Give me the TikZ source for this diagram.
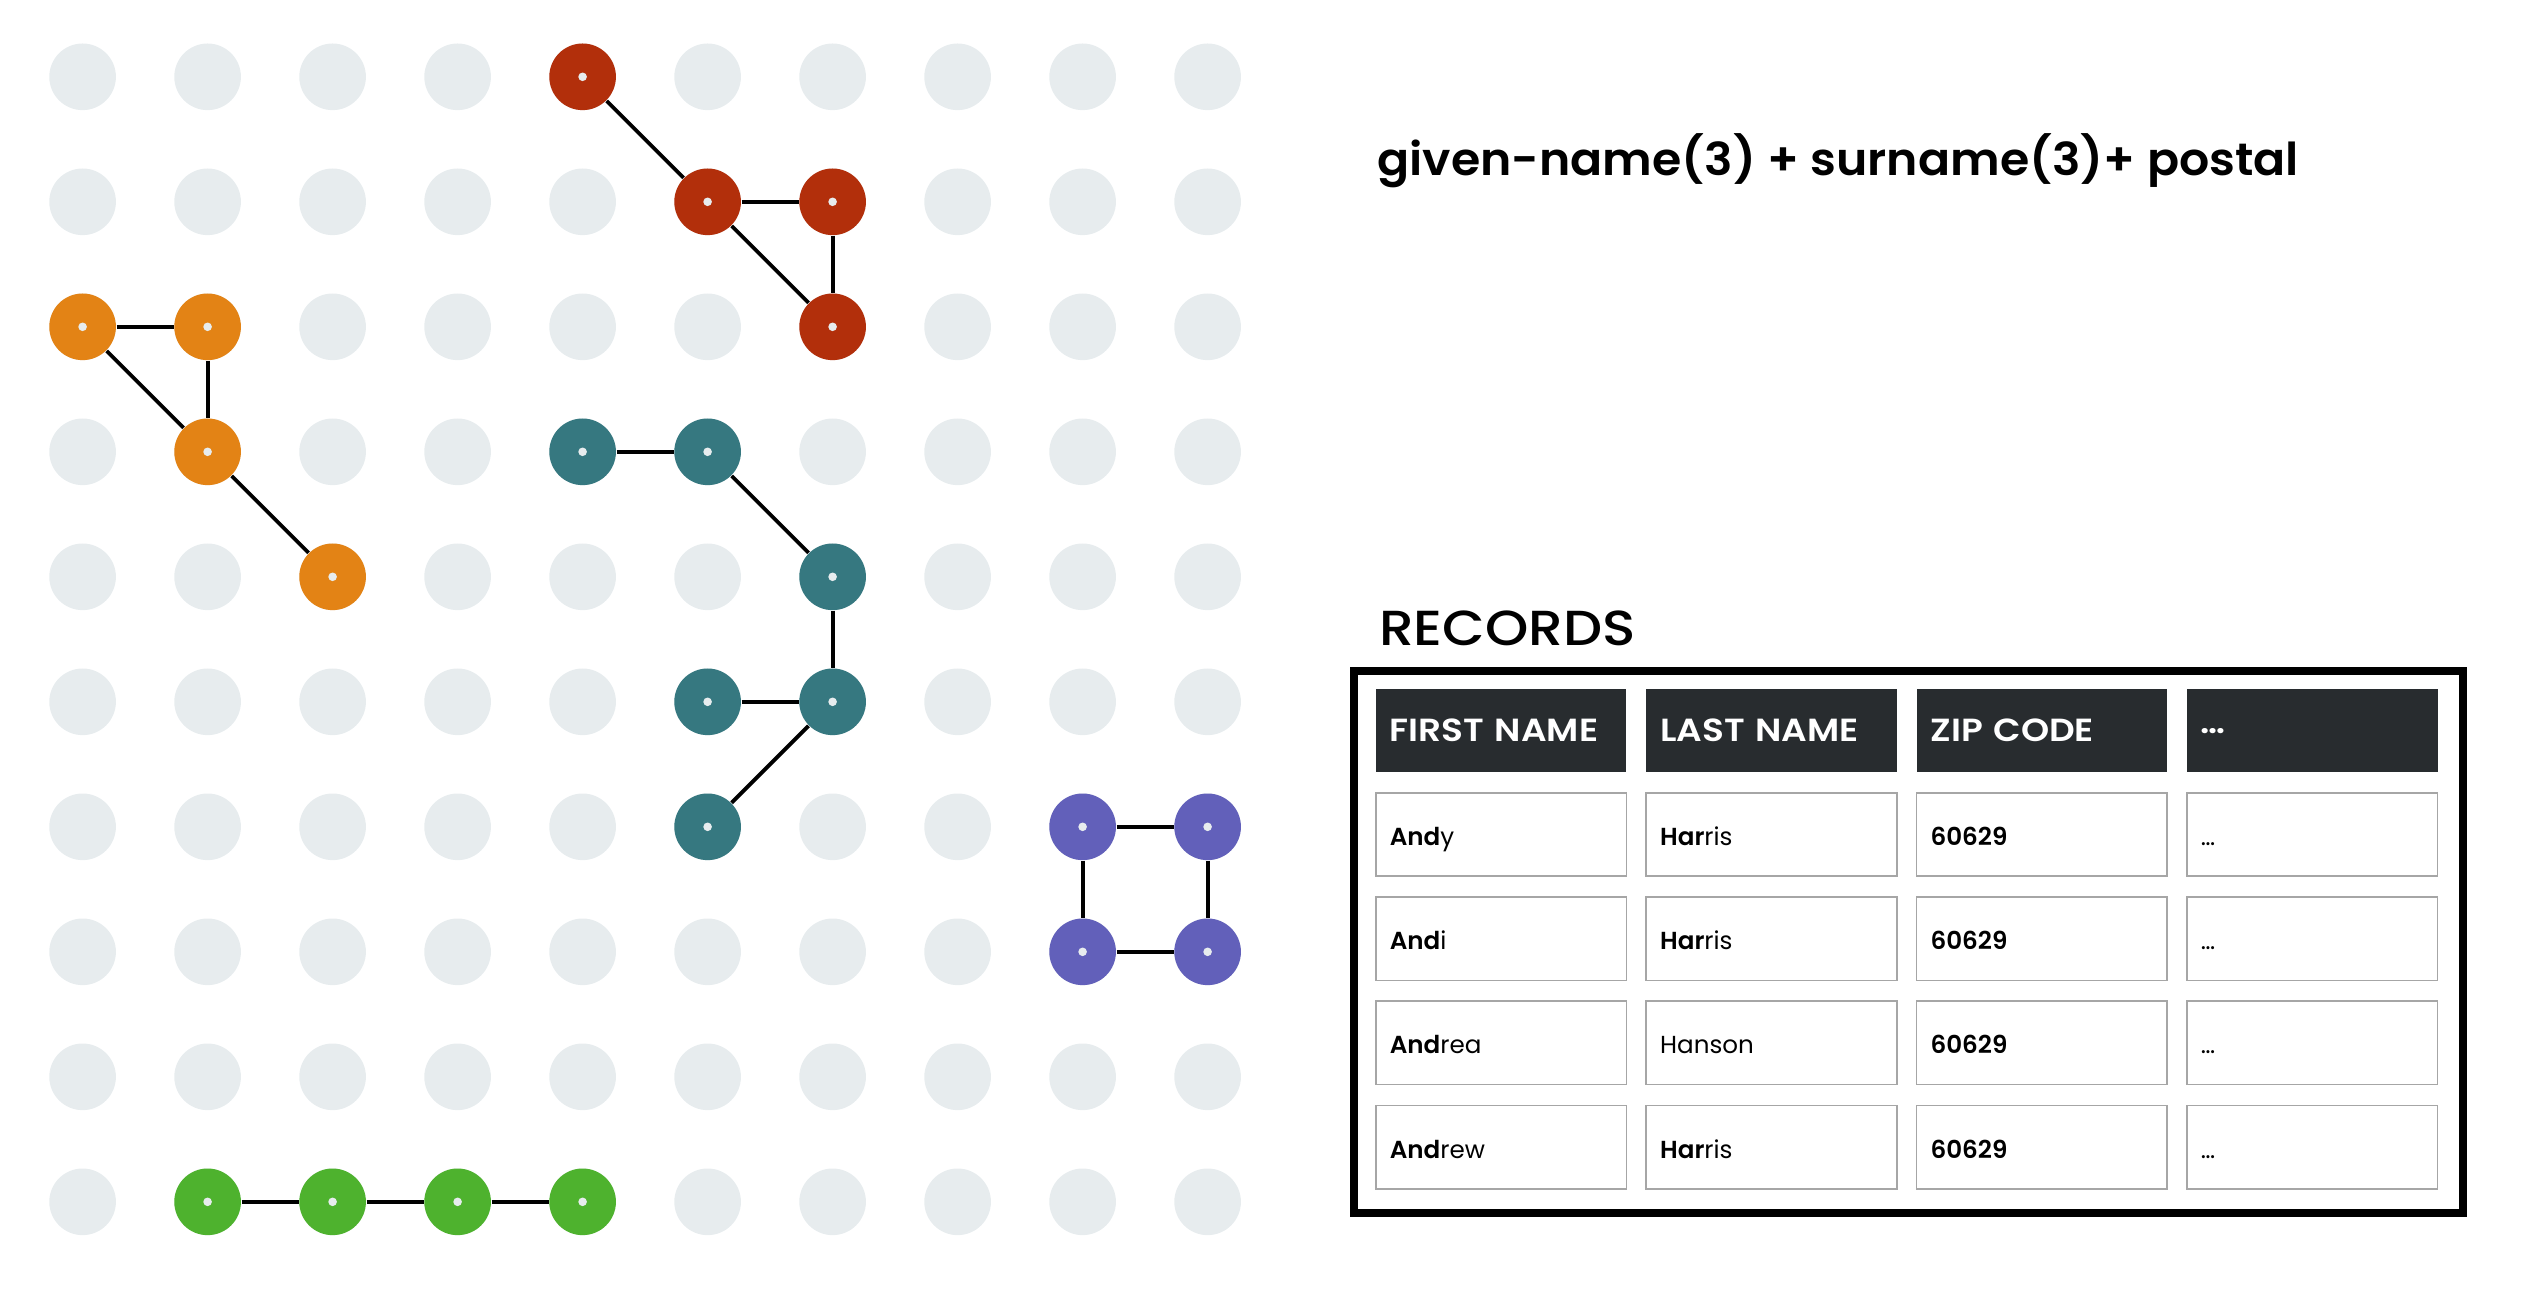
\documentclass[tikz,border=0pt]{standalone}
\usepackage{fontspec}
\setmainfont{Poppins}[BoldFont={* SemiBold}]
\newfontfamily\medfont{Poppins Medium}[FakeStretch=1.12]
\newfontfamily\capfont{Poppins SemiBold}[FakeStretch=1.12]
\newfontfamily\rulefont{Poppins SemiBold}[FakeStretch=1.045]
\definecolor{dotgray}{HTML}{E7ECEE}
\definecolor{hubred}{HTML}{B22F0B}
\definecolor{huborange}{HTML}{E38315}
\definecolor{hubteal}{HTML}{367880}
\definecolor{hubpurple}{HTML}{6260BA}
\definecolor{hubgreen}{HTML}{4EB22E}
\definecolor{headgray}{HTML}{282C2F}
\definecolor{cellgray}{HTML}{A6A6A6}
\tikzset{
    dot/.style={circle, fill=dotgray, inner sep=0pt, minimum size=0.666cm},
    hub/.style={dot, fill=#1, path picture={\fill[dotgray] (path picture bounding box.center) circle (4.3);}},
    link/.style={line width=0.038cm},
    tab/.style={rectangle, anchor=north west, minimum width=2.505cm, minimum height=0.834cm,
        text width=2.225cm, inner xsep=0.14cm, inner ysep=0pt, align=left},
    head/.style={tab, fill=headgray, text=white, font=\capfont\fontsize{9.1}{10}\selectfont},
    cell/.style={tab, draw=cellgray, line width=0.015cm, fill=white, text height=6.3pt, text depth=0pt,
        font=\fontsize{7}{8}\selectfont},
}
\begin{document}
\begin{tikzpicture}[x=0.01cm, y=-0.01cm]
    \useasboundingbox (0,0) rectangle (2542,1293);
    % grid of points
    \foreach \i in {0,...,9}
        \foreach \j in {0,...,9}
            \node[dot] (n-\i-\j) at (82.6+125*\i, 76.8+125*\j) {};
    % coloured clusters
    \node[hub=hubred] (r1) at (n-4-0) {};
    \node[hub=hubred] (r2) at (n-5-1) {};
    \node[hub=hubred] (r3) at (n-6-1) {};
    \node[hub=hubred] (r4) at (n-6-2) {};
    \node[hub=huborange] (o1) at (n-0-2) {};
    \node[hub=huborange] (o2) at (n-1-2) {};
    \node[hub=huborange] (o3) at (n-1-3) {};
    \node[hub=huborange] (o4) at (n-2-4) {};
    \node[hub=hubteal] (t1) at (n-4-3) {};
    \node[hub=hubteal] (t2) at (n-5-3) {};
    \node[hub=hubteal] (t3) at (n-6-4) {};
    \node[hub=hubteal] (t4) at (n-6-5) {};
    \node[hub=hubteal] (t5) at (n-5-5) {};
    \node[hub=hubteal] (t6) at (n-5-6) {};
    \node[hub=hubpurple] (p1) at (n-8-6) {};
    \node[hub=hubpurple] (p2) at (n-9-6) {};
    \node[hub=hubpurple] (p3) at (n-8-7) {};
    \node[hub=hubpurple] (p4) at (n-9-7) {};
    \node[hub=hubgreen] (g1) at (n-1-9) {};
    \node[hub=hubgreen] (g2) at (n-2-9) {};
    \node[hub=hubgreen] (g3) at (n-3-9) {};
    \node[hub=hubgreen] (g4) at (n-4-9) {};
    % draw links
    \foreach \a/\b in {r1/r2, r2/r3, r3/r4, r2/r4, o1/o2, o2/o3, o1/o3, o3/o4,
        t1/t2, t2/t3, t3/t4, t5/t4, t4/t6, p1/p2, p1/p3, p2/p4, p3/p4, g1/g2, g2/g3, g3/g4}
        \draw[link] (\a) -- (\b);
    % labels
    \node[anchor=base west, inner sep=0pt, font=\rulefont\fontsize{12.9}{14}\selectfont] (rule) at (1376.7,175)
        {given-name(3) + surname(3)+ postal};
    \node[anchor=base west, inner sep=0pt, font=\medfont\fontsize{14}{16}\selectfont] (title) at (1378.3,645) {RECORDS};
    % records table
    \node[draw, line width=0.08cm, anchor=north west, minimum width=11.086cm, minimum height=5.41cm] (records)
        at (1349.7,667.3) {};
    \foreach \h [count=\k] in {FIRST NAME, LAST NAME, ZIP CODE, …}
        \node[head] (h-\k) at (1375+270.4*\k-270.4, 688.3) {\h};
    \foreach \a/\b [count=\r] in {y/{\textbf{Har}ris}, i/{\textbf{Har}ris}, rea/Hanson, rew/{\textbf{Har}ris}} {
        \node[cell] (c-\r-1) at (1375, 792+104.2*\r-104.2) {\textbf{And}\a};
        \node[cell] (c-\r-2) at (1645.4, 792+104.2*\r-104.2) {\b};
        \node[cell] (c-\r-3) at (1915.8, 792+104.2*\r-104.2) {\textbf{60629}};
        \node[cell] (c-\r-4) at (2186.2, 792+104.2*\r-104.2) {…};
    }
\end{tikzpicture}
\end{document}
